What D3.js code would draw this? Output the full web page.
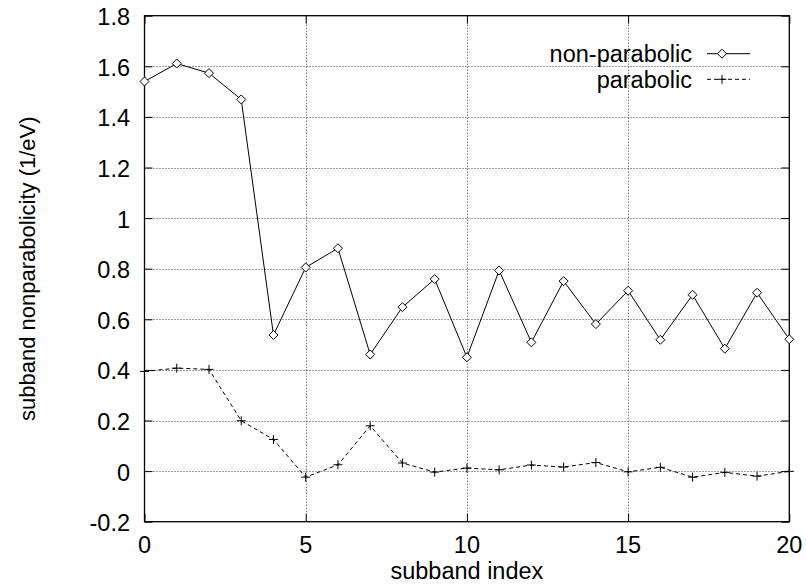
<!DOCTYPE html>
<html>
<head>
<meta charset="utf-8">
<script src="https://cdn.jsdelivr.net/npm/d3@7"></script>
<style>
  body { margin: 0; background: #fff; }
  svg { display: block; }
  text { font-family: "Liberation Sans", Arial, Helvetica, sans-serif; fill: #000; }
</style>
</head>
<body>
<svg id="chart" width="806" height="585"></svg>
<script>
const subbandIndex = d3.range(0, 21);
const nonParabolic = [1.540, 1.611, 1.573, 1.469, 0.538, 0.805, 0.881, 0.461, 0.648, 0.759, 0.450,
                      0.793, 0.509, 0.751, 0.581, 0.713, 0.519, 0.697, 0.484, 0.705, 0.521];
const parabolic = [0.394, 0.407, 0.402, 0.199, 0.125, -0.024, 0.025, 0.179, 0.032, -0.004, 0.012,
                   0.005, 0.024, 0.016, 0.034, -0.003, 0.015, -0.024, -0.005, -0.020, -0.001];
const xTicks = [0, 5, 10, 15, 20];
const yTicks = [-0.2, 0, 0.2, 0.4, 0.6, 0.8, 1.0, 1.2, 1.4, 1.6, 1.8];
const yTickLabels = ["-0.2", "0", "0.2", "0.4", "0.6", "0.8", "1", "1.2", "1.4", "1.6", "1.8"];
const seriesNames = ["non-parabolic", "parabolic"];
const xLabel = "subband index";
const yLabel = "subband nonparabolicity (1/eV)";

const svg = d3.select("#chart");
const L = 144.5, R = 789.3, T = 15.7, B = 521.7;
const x = d3.scaleLinear().domain([0, 20]).range([L, R]);
const y = d3.scaleLinear().domain([-0.2, 1.8]).range([B, T]);
const fs = 23.5;
const tickLen = 8;

// grid
const grid = svg.append("g").attr("stroke", "#000").attr("stroke-width", 1)
  .attr("stroke-dasharray", "1,2").attr("opacity", 0.75);
yTicks.slice(1, -1).forEach(v => {
  grid.append("line").attr("x1", L).attr("x2", R).attr("y1", Math.round(y(v)) + 0.5).attr("y2", Math.round(y(v)) + 0.5);
});
xTicks.slice(1, -1).forEach(v => {
  grid.append("line").attr("y1", T).attr("y2", B).attr("x1", Math.round(x(v)) + 0.5).attr("x2", Math.round(x(v)) + 0.5);
});

// axes with inward ticks (mirrored)
const axL = svg.append("g").attr("transform", `translate(${L},0)`)
  .call(d3.axisRight(y).tickValues(yTicks).tickSize(tickLen).tickFormat(""));
const axR = svg.append("g").attr("transform", `translate(${R},0)`)
  .call(d3.axisLeft(y).tickValues(yTicks).tickSize(tickLen).tickFormat(""));
const axB = svg.append("g").attr("transform", `translate(0,${B})`)
  .call(d3.axisTop(x).tickValues(xTicks).tickSize(tickLen).tickFormat(""));
const axT = svg.append("g").attr("transform", `translate(0,${T})`)
  .call(d3.axisBottom(x).tickValues(xTicks).tickSize(tickLen).tickFormat(""));
[axL, axR, axB, axT].forEach(a => {
  a.selectAll(".domain").remove();
  a.selectAll("line").attr("stroke", "#000").attr("stroke-width", 1);
});

// frame
svg.append("rect").attr("x", L).attr("y", T).attr("width", R - L).attr("height", B - T)
  .attr("fill", "none").attr("stroke", "#000").attr("stroke-width", 1.3);

// tick labels
svg.append("g").selectAll("text").data(yTicks).join("text")
  .attr("x", 130).attr("y", d => y(d)).attr("dy", "0.4em")
  .attr("text-anchor", "end").attr("font-size", fs).text((d, i) => yTickLabels[i]);
svg.append("g").selectAll("text").data(xTicks).join("text")
  .attr("x", d => x(d)).attr("y", 552.5)
  .attr("text-anchor", "middle").attr("font-size", fs).text(d => d);

// axis labels
svg.append("text").attr("x", x(10)).attr("y", 579)
  .attr("text-anchor", "middle").attr("font-size", fs).text(xLabel);
svg.append("text").attr("transform", `translate(27,${(T + B) / 2}) rotate(-90)`)
  .attr("dy", "0.35em").attr("text-anchor", "middle").attr("font-size", 22).text(yLabel);

// series
const line = d3.line().x((d, i) => x(subbandIndex[i])).y(d => y(d));
svg.append("path").datum(nonParabolic).attr("d", line)
  .attr("fill", "none").attr("stroke", "#000").attr("stroke-width", 1);
svg.append("path").datum(parabolic).attr("d", line)
  .attr("fill", "none").attr("stroke", "#000").attr("stroke-width", 1).attr("stroke-dasharray", "4,3");

const dm = 4.5;
function diamond(g, cx, cy) {
  g.append("path").attr("d", `M${cx},${cy - dm}L${cx + dm},${cy}L${cx},${cy + dm}L${cx - dm},${cy}Z`)
    .attr("fill", "#fff").attr("stroke", "#000").attr("stroke-width", 1);
}
const pm = 4.5;
function plus(g, cx, cy) {
  g.append("path").attr("d", `M${cx - pm},${cy}H${cx + pm}M${cx},${cy - pm}V${cy + pm}`)
    .attr("stroke", "#000").attr("stroke-width", 1);
}
const gD = svg.append("g");
nonParabolic.forEach((v, i) => diamond(gD, x(subbandIndex[i]), y(v)));
const gP = svg.append("g");
parabolic.forEach((v, i) => plus(gP, x(subbandIndex[i]), y(v)));

// legend
const leg = svg.append("g");
const legY = [53.7, 79.3];
leg.append("text").attr("x", 692).attr("y", legY[0]).attr("dy", "0.35em").attr("text-anchor", "end")
  .attr("font-size", fs).text(seriesNames[0]);
leg.append("text").attr("x", 692).attr("y", legY[1]).attr("dy", "0.35em").attr("text-anchor", "end")
  .attr("font-size", fs).text(seriesNames[1]);
leg.append("line").attr("x1", 707).attr("x2", 750).attr("y1", legY[0]).attr("y2", legY[0])
  .attr("stroke", "#000").attr("stroke-width", 1);
diamond(leg, 722, legY[0]);
leg.append("line").attr("x1", 707).attr("x2", 750).attr("y1", legY[1]).attr("y2", legY[1])
  .attr("stroke", "#000").attr("stroke-width", 1).attr("stroke-dasharray", "4,3");
plus(leg, 722, legY[1]);
</script>
</body>
</html>
